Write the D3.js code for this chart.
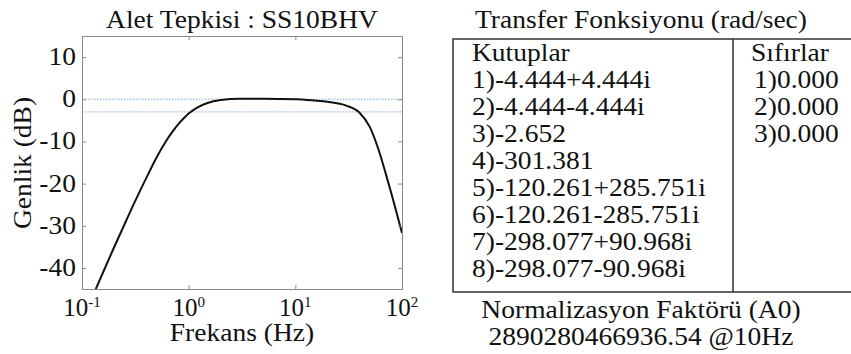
<!DOCTYPE html>
<html>
<head>
<meta charset="utf-8">
<script src="https://cdn.jsdelivr.net/npm/d3@7"></script>
<style>
  body { margin: 0; background: #fff; }
  svg { display: block; }
</style>
</head>
<body>
<svg id="svg" width="851" height="354"></svg>
<script>
// values
const freqHz = [0.13, 0.15, 0.2, 0.25, 0.3, 0.4, 0.5, 0.6, 0.7, 0.8, 0.9, 1.0, 1.2, 1.5, 2, 3, 5, 10, 15, 20, 30, 40, 50, 60, 70, 80, 90, 100];
const gainDb = [-45.9, -42.3, -35.1, -29.7, -25.3, -18.7, -13.8, -10.3, -7.8, -5.9, -4.5, -3.4, -2.0, -0.9, -0.2, 0.1, 0.1, 0, -0.3, -0.6, -1.5, -3.2, -6.6, -11.8, -17.4, -22.6, -27.4, -31.7];
const yTicks = [10, 0, -10, -20, -30, -40];
const xTickExp = [-1, 0, 1, 2];
const refLinesDb = [0, -3];

const plotTitle = 'Alet Tepkisi : SS10BHV';
const xLabel = 'Frekans (Hz)';
const yLabel = 'Genlik (dB)';

const tableTitle = 'Transfer Fonksiyonu (rad/sec)';
const poles = ['-4.444+4.444i', '-4.444-4.444i', '-2.652', '-301.381', '-120.261+285.751i', '-120.261-285.751i', '-298.077+90.968i', '-298.077-90.968i'];
const zeros = ['0.000', '0.000', '0.000'];
const normLines = ['Normalizasyon Faktörü (A0)', '2890280466936.54 @10Hz'];

const FONT = "'Liberation Serif', 'Times New Roman', serif";
const SX = 1.1; // the reference text is a bit wider than plain Times
const FS = 25;

const svg = d3.select('#svg');
svg.append('rect').attr('width', 851).attr('height', 354).attr('fill', '#fff');

const stretch = function(sel) {
  sel.each(function() {
    const w = this.getComputedTextLength();
    this.setAttribute('textLength', w * SX);
    this.setAttribute('lengthAdjust', 'spacingAndGlyphs');
  });
};

const label = function(parent) {
  return parent.append('text')
    .style('font-family', FONT)
    .style('font-size', FS + 'px')
    .attr('fill', '#111');
};

// ---- left: response plot ----
const box = { left: 82, right: 402, top: 36, bottom: 289 };

const x = d3.scaleLog().domain([0.1, 100]).range([box.left, box.right]);
const y = d3.scaleLinear().domain([-45, 15]).range([box.bottom, box.top]);

svg.append('defs').append('clipPath').attr('id', 'clip')
  .append('rect')
  .attr('x', box.left).attr('y', box.top)
  .attr('width', box.right - box.left).attr('height', box.bottom - box.top);

const plot = svg.append('g');

plot.selectAll('line.ref')
  .data(refLinesDb)
  .enter()
  .append('line')
  .classed('ref', true)
  .attr('x1', box.left).attr('x2', box.right)
  .attr('y1', d => y(d)).attr('y2', d => y(d))
  .attr('stroke', '#7aaedc')
  .attr('stroke-width', 1)
  .attr('stroke-dasharray', '1.5,1.5');

const pts = freqHz.map((f, i) => [f, gainDb[i]]);
const lineBuilder = d3.line()
  .x(d => x(d[0]))
  .y(d => y(d[1]))
  .curve(d3.curveMonotoneX);

plot.append('path')
  .datum(pts)
  .attr('clip-path', 'url(#clip)')
  .attr('fill', 'none')
  .attr('stroke', '#111')
  .attr('stroke-width', 2)
  .attr('d', lineBuilder);

// axes: ticks pointing inwards, on all four sides
const tickV = xTickExp.map(e => Math.pow(10, e));
const axisColor = '#8a8a8a';

const axB = plot.append('g').attr('transform', 'translate(0,' + box.bottom + ')')
  .call(d3.axisTop(x).tickValues(tickV).tickSize(4).tickFormat(''));
const axT = plot.append('g').attr('transform', 'translate(0,' + box.top + ')')
  .call(d3.axisBottom(x).tickValues(tickV).tickSize(4).tickFormat(''));
const axL = plot.append('g').attr('transform', 'translate(' + box.left + ',0)')
  .call(d3.axisRight(y).tickValues(yTicks).tickSize(4).tickFormat(''));
const axR = plot.append('g').attr('transform', 'translate(' + box.right + ',0)')
  .call(d3.axisLeft(y).tickValues(yTicks).tickSize(4).tickFormat(''));

[axB, axT, axL, axR].forEach(a => {
  a.selectAll('path.domain').attr('stroke', axisColor);
  a.selectAll('.tick line').attr('stroke', axisColor);
});

// y tick labels
yTicks.forEach(v => {
  label(plot)
    .attr('x', 76)
    .attr('y', y(v) + 8)
    .attr('text-anchor', 'end')
    .text(v)
    .call(stretch);
});

// x tick labels 10^e
xTickExp.forEach(e => {
  const t = label(plot)
    .attr('x', x(Math.pow(10, e)))
    .attr('y', 316)
    .attr('text-anchor', 'middle');
  t.append('tspan').text('10');
  t.append('tspan').attr('dy', -9).style('font-size', '15px').text(e);
});

label(plot)
  .attr('x', (box.left + box.right) / 2)
  .attr('y', 341)
  .attr('text-anchor', 'middle')
  .text(xLabel)
  .call(stretch);

label(plot)
  .attr('transform', 'translate(31,163) rotate(-90)')
  .attr('text-anchor', 'middle')
  .text(yLabel)
  .call(stretch);

label(plot)
  .attr('x', (box.left + box.right) / 2)
  .attr('y', 28)
  .attr('text-anchor', 'middle')
  .text(plotTitle)
  .call(stretch);

// ---- right: transfer function table ----
const tbl = { left: 453, right: 851, top: 39, bottom: 292, split: 733 };
const table = svg.append('g');
const rowY = d3.scaleLinear().domain([0, 1]).range([61, 88]);

label(table)
  .attr('x', 641).attr('y', 28)
  .attr('text-anchor', 'middle')
  .text(tableTitle)
  .call(stretch);

const lineColor = '#333';
table.append('path')
  .attr('d', 'M' + tbl.right + ',' + tbl.top + 'H' + tbl.left + 'V' + tbl.bottom + 'H' + tbl.right)
  .attr('fill', 'none').attr('stroke', lineColor).attr('stroke-width', 1.5);
table.append('line')
  .attr('x1', tbl.split).attr('x2', tbl.split)
  .attr('y1', tbl.top).attr('y2', tbl.bottom)
  .attr('stroke', lineColor).attr('stroke-width', 1.5);

const leftCol = ['Kutuplar'].concat(poles.map((p, i) => (i + 1) + ')' + p));
const rightCol = ['Sıfırlar'].concat(zeros.map((z, i) => (i + 1) + ')' + z));

leftCol.forEach((s, i) => {
  label(table)
    .attr('x', 472)
    .attr('y', rowY(i))
    .text(s)
    .call(stretch);
});

rightCol.forEach((s, i) => {
  label(table)
    .attr('x', i === 0 ? 751 : 754)
    .attr('y', rowY(i))
    .text(s)
    .call(stretch);
});

normLines.forEach((s, i) => {
  label(table)
    .attr('x', 641)
    .attr('y', 318 + i * 27)
    .attr('text-anchor', 'middle')
    .text(s)
    .call(stretch);
});
</script>
</body>
</html>
